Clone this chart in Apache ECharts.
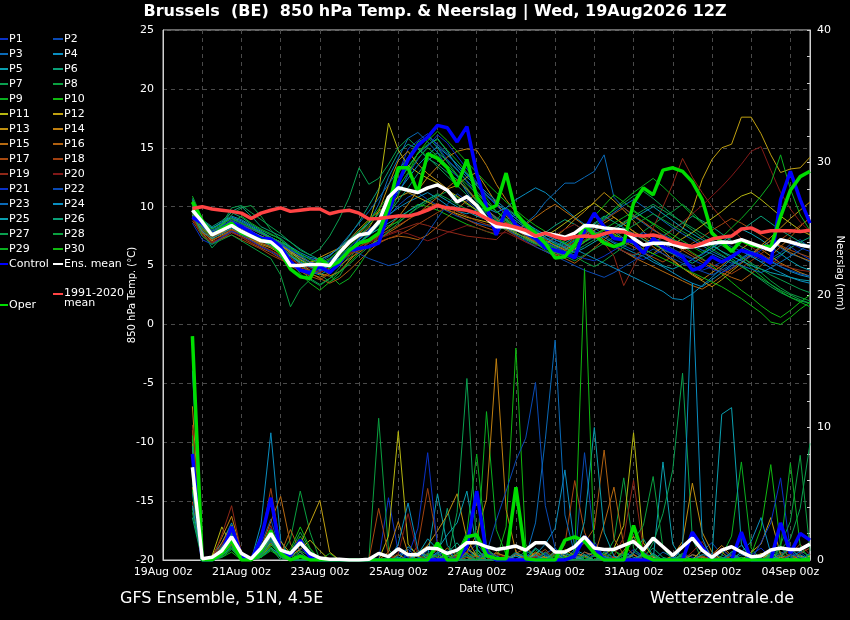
<!DOCTYPE html>
<html><head><meta charset="utf-8">
<script src="https://cdn.jsdelivr.net/npm/echarts@6/dist/echarts.min.js"></script>
<style>html,body{margin:0;padding:0;background:#000}#c{width:850px;height:620px}</style>
</head><body><div id="c"></div>
<script>
// forecast hours since 19Aug 00z (run 19Aug 12Z, +6h .. +384h)
const hours = Array.from({length:64}, (_, i) => 18 + 6 * i);

const memberColors = ['#0a32c8','#0a4ab4','#0a6ab8','#0a8ec0','#0aa0b0','#0aa078','#0aa050','#0aa040','#0ab020','#10b810',
  '#b8b810','#c0a010','#c09010','#c08010','#b86a10','#b06010','#a84a10','#a04010','#902818','#801818'];

// ---- 850 hPa temperature (°C), members ----
const tP1 = [9.2,8.0,7.4,7.9,8.3,8.0,7.6,7.2,6.9,6.4,5.8,5.2,4.8,4.6,4.9,5.6, 6.4,7.0,7.5,8.4,10.6,12.8,14.9,15.6,16.2,15.1,14.0,13.2,12.1,11.0,9.8,8.9, 8.4,8.0,7.5,7.1,6.8,6.2,5.9,6.3,7.0,7.4,7.1,6.6,6.2,5.8,5.5,5.9, 6.3,6.0,5.4,5.0,4.6,4.9,5.3,5.7,6.2,5.9,5.5,5.1,5.8,6.6,6.0,5.5];
const tP2 = [10.1,8.4,7.8,8.3,8.9,8.6,8.0,7.3,7.0,6.8,6.0,5.3,4.9,5.2,5.0,5.9, 6.8,7.6,8.1,8.6,9.2,10.1,10.8,11.2,10.6,10.1,9.6,9.2,8.9,8.6,8.4,8.2, 8.9,9.3,8.7,8.0,7.6,7.2,6.9,7.4,7.8,8.2,7.6,7.0,6.7,6.3,6.8,7.3, 7.0,6.4,6.0,5.6,5.9,6.5,7.1,6.6,6.2,5.8,5.3,5.6,6.1,6.8,7.2,6.5];
const tP3 = [9.6,8.2,7.6,8.5,9.0,8.7,8.2,7.8,7.3,6.9,6.3,5.6,5.1,4.9,5.4,6.2, 7.1,7.9,8.6,10.2,12.5,14.1,15.8,16.3,15.5,14.6,13.3,12.6,11.2,10.1,9.4,8.7, 8.1,7.9,8.6,9.3,10.4,11.2,12.0,12.0,12.5,13.0,14.4,10.8,9.9,9.2,8.6,8.0, 7.6,7.2,6.9,6.7,6.3,6.0,5.6,5.2,5.5,6.0,6.6,7.1,6.5,6.0,5.7,5.3];
const tP4 = [10.4,8.8,8.1,8.7,9.2,8.9,8.4,7.9,7.4,7.0,6.2,5.5,5.0,4.7,4.4,5.3, 6.2,7.3,8.0,8.6,9.3,9.9,10.4,10.8,11.2,10.7,10.1,9.6,9.4,9.7,9.9,9.5, 9.9,10.6,11.1,11.6,11.2,10.5,9.8,9.1,8.5,7.9,7.4,6.9,6.5,6.1,5.8,5.3, 4.9,4.4,3.9,3.5,3.2,3.8,4.4,5.0,5.6,6.2,5.9,5.4,4.9,4.5,4.2,4.0];
const tP5 = [9.9,8.5,7.9,8.2,8.6,8.4,7.9,7.4,7.1,6.6,5.9,5.1,4.5,4.2,4.7,5.5, 6.3,7.2,7.9,8.8,10.3,12.0,13.4,14.5,15.2,15.8,14.7,13.4,12.5,11.8,10.9,10.2, 9.7,9.0,8.3,7.6,7.1,6.7,6.4,6.9,7.5,8.0,8.4,7.9,7.3,6.8,6.1,5.5, 5.0,4.7,5.1,5.5,6.0,6.5,7.0,7.6,8.1,7.7,7.2,6.6,6.0,5.4,4.9,4.6];
const tP6 = [10.7,8.9,8.3,8.8,9.5,9.1,8.5,8.0,7.6,7.3,6.6,5.9,5.3,5.0,5.5,6.4, 7.5,8.7,10.1,11.5,13.0,14.6,15.3,14.9,14.1,13.6,12.9,12.3,11.4,10.5,9.7,9.1, 8.6,8.2,7.7,7.3,7.8,8.4,8.9,8.5,8.0,7.5,7.0,6.6,6.2,5.8,6.3,6.9, 7.5,8.1,8.6,9.2,8.8,8.3,7.7,7.1,6.6,6.2,5.8,5.4,5.9,6.5,7.0,7.4];
const tP7 = [9.4,7.9,6.5,7.4,8.1,7.8,7.3,6.9,6.6,6.1,5.4,4.6,3.9,3.4,3.9,4.8, 5.8,6.9,7.8,8.9,10.7,12.8,14.2,15.5,15.9,15.0,13.8,12.7,11.6,10.4,9.2,8.5, 8.0,7.6,7.2,6.8,6.5,6.1,6.6,7.2,7.8,8.5,9.1,9.7,10.3,10.9,11.3,10.7, 10.0,9.3,8.6,8.0,7.4,6.8,6.2,5.6,5.0,4.4,3.8,3.2,2.7,2.3,2.0,1.8];
const tP8 = [10.2,8.6,7.5,8.3,9.3,9.9,10.1,9.2,8.0,7.2,6.4,5.8,5.0,4.3,3.6,4.1, 5.5,6.8,7.6,8.1,8.4,8.7,9.3,9.9,10.4,10.9,11.3,10.8,10.2,9.7,9.2,8.8, 9.9,9.3,8.7,8.0,7.4,6.8,6.3,5.8,5.3,4.9,5.4,6.0,6.6,7.2,7.9,8.5, 9.1,9.6,10.2,9.5,8.7,7.9,7.1,6.4,5.8,5.1,4.4,3.7,3.1,2.6,2.3,2.0];
const tP9 = [10.9,9.0,7.2,7.9,8.6,9.2,8.6,8.1,7.7,7.2,6.5,5.9,5.2,4.8,4.2,3.4, 3.9,5.0,6.3,7.6,9.2,11.0,12.8,14.6,15.3,15.7,14.8,13.9,12.9,11.8,10.7,9.6, 8.8,8.1,7.5,6.9,6.3,5.8,6.3,6.9,7.6,8.3,9.0,9.8,10.5,11.2,11.8,12.4, 11.7,10.9,10.1,9.3,8.6,7.9,7.1,6.4,5.6,4.8,4.1,3.4,2.8,2.3,1.9,1.5];
const tP10 = [10.0,8.3,7.6,8.1,8.7,8.2,7.8,7.5,7.1,6.3,5.4,4.3,3.5,2.9,3.6,4.4, 5.2,6.1,7.0,7.7,8.2,8.8,9.6,10.2,10.0,9.7,9.3,8.9,8.5,8.2,7.9,7.6, 8.7,8.3,7.8,7.3,6.9,6.6,7.1,7.7,8.4,9.2,10.1,11.0,10.4,9.7,9.1,8.5, 7.9,7.3,6.7,6.1,5.6,5.0,4.3,3.6,2.9,2.3,1.6,1.0,0.6,1.2,1.9,2.5];
const tP11 = [9.5,8.1,7.3,7.8,8.4,8.1,7.7,7.4,7.0,6.7,6.1,5.5,5.0,4.7,5.1,5.9, 6.8,7.7,8.6,11.3,17.1,14.8,13.5,12.9,12.4,12.0,11.4,10.9,10.3,9.7,9.0,8.5, 8.1,7.7,7.4,7.0,7.5,8.0,8.6,9.2,9.8,10.3,9.7,9.1,8.5,7.9,7.4,6.9, 6.4,6.8,7.3,7.8,8.4,9.0,9.6,10.3,10.9,11.2,10.6,9.9,9.2,8.6,8.0,7.6];
const tP12 = [9.8,8.4,7.7,8.0,8.5,8.3,7.9,7.5,7.2,6.8,6.2,5.7,5.3,5.5,5.9,6.5, 7.2,8.1,8.9,9.6,10.2,10.8,11.2,10.8,10.4,10.0,9.7,9.4,9.1,8.9,8.7,8.5, 8.2,7.8,7.3,6.9,6.5,6.2,5.9,6.4,7.0,7.6,8.1,7.7,7.2,6.8,6.4,6.0, 6.6,7.3,8.1,9.7,12.3,14.0,15.0,15.3,17.6,17.6,16.2,14.4,12.9,13.2,13.3,14.2];
const tP13 = [9.3,7.9,7.1,7.6,8.0,7.7,7.2,6.8,6.5,6.0,5.3,4.9,5.2,5.7,6.1,6.5, 6.9,7.4,8.2,9.6,11.8,13.9,14.7,13.6,12.8,12.2,11.5,11.8,12.5,12.9,11.6,10.3, 9.2,8.5,7.9,7.3,6.8,7.4,8.1,8.9,9.6,10.4,11.2,10.5,9.7,8.8,7.9,7.1, 6.3,5.5,4.8,4.2,3.7,3.2,3.8,4.5,5.2,5.9,6.7,7.4,8.2,9.0,9.7,10.4];
const tP14 = [10.5,8.7,7.9,8.2,8.8,8.4,8.1,7.7,7.3,6.9,6.0,5.2,4.6,4.3,4.1,4.5, 5.4,6.3,7.0,7.6,8.3,9.1,10.2,11.4,12.5,13.4,14.2,14.7,14.9,14.8,13.5,11.9, 10.6,9.5,8.6,7.8,7.2,6.7,6.3,6.8,7.4,8.0,8.6,9.1,8.5,7.9,7.2,6.6, 6.0,5.4,4.8,4.3,3.8,4.4,5.0,5.7,6.4,7.0,6.4,5.8,5.2,4.8,4.4,4.1];
const tP15 = [9.0,7.7,7.0,7.3,7.8,7.5,7.1,6.7,6.3,5.8,5.2,4.7,4.3,4.0,4.4,5.0, 5.6,6.1,6.7,7.2,7.8,8.3,8.9,9.4,10.1,10.8,11.6,12.3,11.5,10.6,9.8,9.0, 8.4,7.9,8.5,9.1,9.7,10.2,9.6,9.0,8.4,7.8,7.2,6.7,6.2,5.7,5.3,4.9, 4.5,4.1,3.7,3.3,3.0,3.5,4.1,4.7,5.3,5.9,6.5,7.1,6.6,6.1,5.7,5.4];
const tP16 = [9.7,8.2,7.5,7.8,8.1,7.6,7.2,6.9,6.6,6.2,5.7,5.0,4.4,3.9,3.5,3.9, 4.6,5.4,6.2,6.9,7.3,7.5,7.4,7.2,7.6,8.3,9.1,9.8,10.5,11.1,10.4,9.6, 8.9,8.2,7.6,7.0,6.5,6.0,5.6,5.2,5.8,6.5,7.2,7.9,8.6,9.2,8.7,8.1, 7.5,6.9,6.3,5.8,5.3,4.8,4.4,4.0,3.7,4.3,5.0,5.8,6.6,7.4,8.3,9.1];
const tP17 = [9.1,7.8,7.2,7.5,7.9,7.4,6.9,6.5,6.1,5.6,5.0,4.5,4.1,3.8,4.3,5.1, 6.0,6.6,7.1,7.5,8.0,8.4,8.9,9.5,9.9,10.3,9.8,9.3,8.9,8.5,8.2,7.9, 8.7,8.1,7.6,7.1,6.6,6.2,6.7,7.3,7.9,8.4,8.0,7.5,7.0,6.6,6.1,5.7, 5.3,5.8,6.3,6.9,7.4,8.0,8.5,9.0,8.6,8.1,7.6,7.1,6.7,6.3,6.0,5.7];
const tP18 = [8.8,7.5,6.9,7.3,7.6,7.2,6.8,6.4,5.9,5.5,5.1,4.8,4.6,4.4,4.8,5.3, 5.9,6.3,6.7,7.0,7.3,7.6,8.0,8.5,9.0,9.5,10.0,9.6,9.2,8.8,8.5,8.3, 8.6,8.0,7.5,7.0,6.5,6.1,6.5,7.0,7.6,8.2,8.8,9.4,9.9,9.3,8.7,8.1, 7.5,7.0,6.5,6.0,5.5,5.1,4.7,4.3,4.8,5.4,6.0,6.6,7.2,7.8,8.4,9.0];
const tP19 = [9.4,8.0,7.4,7.7,8.0,7.6,7.3,7.0,6.7,6.4,5.9,5.4,5.0,4.7,5.0,5.6, 6.2,6.6,7.0,7.4,7.7,8.0,8.3,8.6,8.4,8.1,7.9,7.7,7.5,7.4,7.3,7.2, 8.0,7.5,7.0,6.6,6.2,5.8,6.2,6.7,7.2,7.7,6.9,5.8,3.3,4.9,6.5,8.2, 10.0,11.9,14.1,12.5,11.2,10.0,9.0,8.1,7.3,6.6,6.0,5.5,5.1,4.8,4.6,4.5];
const tP20 = [9.0,7.6,7.0,7.4,7.8,7.4,7.0,6.6,6.3,5.9,5.5,5.1,4.8,4.5,4.9,5.4, 6.0,6.4,6.9,7.3,7.6,7.9,7.7,7.4,7.1,7.4,7.8,8.1,8.4,8.2,7.9,7.7, 7.8,7.4,7.0,6.7,7.1,7.6,8.1,8.5,8.0,7.5,7.0,6.6,6.2,5.9,6.3,6.8, 7.4,8.0,8.7,9.4,10.1,10.9,11.7,12.6,13.6,14.7,15.1,13.1,11.2,9.8,8.7,7.9];
const tP21 = [8.6,7.2,6.8,7.4,7.9,7.6,7.1,6.6,6.2,5.7,5.1,4.6,4.2,4.5,5.0,5.7, 6.5,7.3,8.0,8.7,9.8,11.2,12.7,14.0,15.1,16.1,15.4,14.3,13.2,12.1,11.0,10.1, 9.3,8.6,8.0,7.5,7.0,6.6,6.2,5.9,5.6,5.4,5.8,6.3,6.8,7.3,7.8,7.4, 6.9,6.4,5.9,5.5,5.1,4.7,4.4,4.8,5.3,5.8,6.3,6.8,7.3,6.9,6.5,6.2];
const tP22 = [10.2,8.6,8.0,8.4,8.8,8.5,8.1,7.7,7.3,6.9,6.4,5.8,5.3,5.0,5.4,6.1, 6.4,6.0,5.6,5.3,5.0,5.2,5.7,6.6,7.8,9.0,10.2,11.1,10.5,9.8,9.1,8.5, 8.2,7.6,7.1,6.6,6.2,5.8,5.4,5.0,4.6,4.3,4.0,4.4,4.9,5.4,5.9,6.4, 6.0,5.6,5.2,4.8,4.5,4.2,4.6,5.1,5.6,6.1,5.7,5.3,4.9,4.6,4.3,4.1];
const tP23 = [9.9,8.3,7.7,8.1,8.6,8.3,7.9,7.5,7.1,6.8,6.3,5.9,5.6,5.3,5.8,6.6, 7.6,8.6,9.6,10.7,11.9,13.1,14.2,15.3,16.0,15.3,14.5,13.6,12.7,11.8,11.0,10.3, 9.6,9.0,8.4,7.9,7.4,7.0,6.6,7.1,7.7,8.3,8.9,9.5,10.1,10.6,10.0,9.4, 8.8,8.2,7.7,7.2,6.7,6.2,5.8,5.4,5.0,4.7,4.4,4.8,5.3,5.8,6.3,6.8];
const tP24 = [10.6,8.8,8.2,8.6,9.1,8.8,8.3,7.8,7.4,7.0,6.6,6.1,5.7,5.5,5.9,6.5, 7.2,7.9,8.6,9.4,10.3,11.3,12.4,13.5,14.4,15.1,14.4,13.6,12.8,12.0,11.2,10.5, 9.8,9.2,8.6,8.1,7.6,7.2,6.8,6.4,6.0,5.6,5.2,4.8,4.4,4.0,3.6,3.2, 2.8,2.2,2.1,2.6,3.3,4.0,4.8,5.6,6.3,5.8,5.3,4.8,4.4,4.0,3.7,3.5];
const tP25 = [9.3,7.9,7.3,7.7,8.2,7.9,7.5,7.1,6.7,6.3,5.8,5.3,4.9,4.6,5.0,5.6, 6.4,7.0,7.6,8.1,8.6,9.1,9.6,10.1,10.6,11.0,10.5,10.0,9.6,9.2,8.9,8.6, 9.4,8.8,8.2,7.7,7.3,6.9,6.5,6.1,6.5,7.0,7.5,8.0,8.5,9.0,9.5,10.0, 9.4,8.8,8.2,7.7,7.2,6.7,6.2,5.8,5.4,5.0,4.7,4.4,4.2,4.0,3.8,3.7];
const tP26 = [10.0,8.5,7.9,8.4,9.6,10.0,9.2,8.3,7.9,7.5,7.0,6.4,5.9,5.5,5.2,5.6, 6.2,6.9,7.6,8.4,9.4,10.5,11.6,12.8,13.9,14.6,13.9,13.1,12.2,11.3,10.4,9.6, 8.9,8.3,7.7,7.2,6.8,6.4,6.9,7.4,8.0,8.6,9.2,8.7,8.2,7.7,7.2,6.8, 6.4,6.0,5.6,5.2,5.7,6.2,6.8,7.4,8.0,8.6,9.2,8.6,8.0,7.5,7.0,6.6];
const tP27 = [10.3,8.7,7.6,8.5,9.9,10.1,9.5,8.9,8.3,7.7,7.0,6.3,5.9,6.4,7.5,9.0, 10.8,13.3,11.9,12.4,13.6,15.0,15.8,15.0,14.2,13.4,12.6,11.8,11.0,10.2,9.5,8.9, 8.3,7.8,7.3,6.9,6.5,6.1,5.8,6.2,6.7,7.2,7.7,8.2,8.7,9.2,9.7,10.2, 9.7,9.2,8.7,8.2,7.7,7.2,6.7,6.2,5.7,5.2,4.7,4.2,3.8,3.4,3.0,2.7];
const tP28 = [9.5,7.5,6.8,7.2,7.6,7.1,6.6,6.1,5.6,4.2,1.5,3.0,3.8,3.3,3.9,4.5, 5.1,5.9,6.6,7.2,7.9,8.6,9.3,10.0,10.6,11.1,10.7,10.2,9.8,9.4,9.0,8.7, 8.8,8.2,7.6,7.1,6.6,6.2,5.8,5.4,5.9,6.4,6.9,7.4,7.9,8.4,8.9,9.4, 8.9,8.4,7.9,7.4,6.9,6.4,5.9,5.4,4.9,4.4,3.9,3.4,2.9,2.5,2.1,1.8];
const tP29 = [9.8,8.1,7.5,7.9,8.3,8.0,7.6,7.2,6.8,6.4,5.9,5.4,5.0,4.7,5.1,5.8, 6.6,7.5,8.4,9.4,10.5,11.7,12.9,14.1,15.0,14.3,13.5,12.7,11.9,11.1,10.3,9.6, 9.0,8.4,7.9,7.4,6.9,6.5,6.1,6.6,7.1,7.6,8.1,8.6,9.1,9.6,9.1,8.6, 8.1,7.6,7.1,6.6,6.1,6.7,7.4,8.2,9.0,9.9,10.9,12.0,14.4,11.5,9.3,8.0];
const tP30 = [10.5,8.8,8.1,8.5,9.0,8.6,8.2,7.8,7.4,7.0,6.5,6.0,5.5,5.2,5.6,6.3, 7.1,7.9,8.8,9.8,10.9,12.1,13.3,14.5,15.6,16.4,15.6,14.7,13.8,12.9,12.0,11.2, 10.4,9.7,9.0,8.4,7.9,7.4,6.9,6.5,7.0,7.5,8.0,7.6,7.2,6.8,6.4,6.0, 5.6,5.2,4.8,4.4,4.0,3.6,3.2,2.7,2.2,1.6,1.0,0.2,0.0,0.6,1.3,1.9];

const tControl = [9.1,8.6,7.7,8.1,8.6,8.3,7.8,7.3,7.25,6.6,5.35,4.6,4.4,4.9,4.4,5.2, 6.3,6.45,6.6,6.9,9.45,12.0,14.0,15.2,15.9,16.9,16.7,15.5,16.8,12.85,10.0,7.6, 9.7,8.45,7.75,7.3,6.5,6.3,6.05,5.65,8.0,9.45,8.3,7.3,7.2,7.0,6.05,7.3, 6.6,6.2,5.75,4.6,4.9,5.75,5.3,5.75,6.3,6.05,5.75,5.2,10.6,13.0,10.6,8.6];
const tOper = [10.4,8.8,7.6,8.1,8.6,7.75,7.45,7.15,6.95,6.05,4.7,4.05,3.9,5.6,4.9,5.35, 6.3,6.9,7.15,7.75,10.0,13.3,13.3,11.2,14.5,14.1,13.3,11.7,14.0,10.85,9.7,10.1, 12.85,9.45,8.45,7.75,6.9,5.65,5.75,6.75,8.45,7.6,6.9,6.6,6.9,10.3,11.6,11.0, 13.1,13.3,13.0,12.1,10.6,7.75,7.0,6.2,7.15,6.75,6.6,6.6,9.15,11.4,12.55,13.0];
const tEnsMean = [9.7,8.7,7.6,8.0,8.4,7.9,7.5,7.1,7.0,6.3,5.0,5.0,5.1,5.1,5.0,6.1, 7.0,7.6,7.75,8.7,10.8,11.6,11.4,11.2,11.6,11.85,11.4,10.4,10.85,10.1,9.0,8.3, 8.3,8.1,7.75,7.5,7.75,7.6,7.4,7.75,8.4,8.35,8.2,8.1,8.0,7.3,6.75,6.9, 6.9,6.8,6.55,6.6,6.75,6.9,7.0,6.95,7.2,6.9,6.6,6.3,7.2,7.0,6.75,6.6];
const tClim = [9.85,10.0,9.8,9.7,9.6,9.45,9.0,9.45,9.7,9.9,9.6,9.7,9.8,9.8,9.4,9.6, 9.7,9.45,8.95,9.0,9.1,9.2,9.2,9.4,9.7,10.1,9.9,9.8,9.7,9.45,9.0,8.6, 8.45,8.25,8.0,7.5,7.75,7.45,7.25,7.45,7.5,7.45,7.7,7.9,7.85,7.6,7.5,7.6, 7.4,7.0,6.8,6.6,6.9,7.25,7.4,7.5,8.1,8.2,7.8,7.95,7.95,7.95,7.9,8.0];

// ---- precipitation (mm), members ----
const pP1 = [8.3,0,0.2,1.1,2.3,0.3,0,0.6,2.4,0.8,0.2,0.9,0.3,0,0,0, 0,0,0,0,4.7,0.6,0.2,0,0.9,0.4,0,0,0.5,1.2,0.3,0, 0,0,0.4,0.2,0,0,0,0,0.6,0.3,0,0,0.2,0.8,0.3,0, 0,0,0.5,0.2,0,0,0,0,0,0.4,0.9,0.2,0,0,0.3,0.1];
const pP2 = [6.1,0,0.1,0.8,2.0,0.4,0,1.2,3.1,0.5,0,0.3,0,0,0,0, 0,0,0,0,0,0,0.4,0,0.7,0.2,0,0.3,0.8,0.2,0,0, 0,0.3,0,0,0.5,0.9,0.2,0,8.1,1.4,0.2,0,0,0.6,0.2,0, 0,0.2,0,0,0.7,1.3,0.4,0,0,0,0.3,0,0.5,0.8,0.2,0];
const pP3 = [5.2,0,0,0.5,1.6,0.2,0,2.0,4.3,1.0,0.3,0,0,0,0,0, 0,0,0,0,0,0.3,0.8,0.2,0,0.5,0,0.2,0,0,0.6,0.3, 0,0,0.2,0.9,0.4,0,0,0,0.3,0.6,0.2,0,0,0.4,0,0, 0.6,0.2,0,0,0,0.5,0.2,0,0,0.3,0,0,0.9,0.2,0,0];
const pP4 = [7.4,0,0.3,1.3,2.8,0.5,0,2.7,9.6,1.5,0,0.4,0,0,0,0, 0,0,0,0,0,0,1.0,0.4,0,0,0.6,0.2,0,0.8,0,0, 0.3,0,0,0.4,1.2,2.4,6.8,0.9,0,0,0,0.3,0,0,0.5,0.2, 0,0,0,0.4,0.2,0,0,0.6,1.1,0.3,0,0,0,0.4,0.2,0];
const pP5 = [14.3,0,0,0.7,1.9,0.1,0,0.8,1.9,0.4,0,0,0,0,0,0, 0,0,0,0,0,0.2,0,0.6,0.3,5.0,1.1,0.3,0,0.4,0.2,0, 0,0.5,0,0,0.3,0,0,0.8,0.4,0,0,0,0.6,0.2,0,0, 7.4,1.2,0,0,0,0.3,0,0,0.2,0,0,0.5,0.3,0,0.4,0];
const pP6 = [3.2,0,0,0.9,1.4,0.3,0,0.5,1.7,0.6,0.3,1.1,0.4,0,0,0, 0,0,0,0,0,0,0,0,0,0,3.9,0.5,0,0,0.3,0, 0,0,0.7,0.3,0,0,0.4,0,0,0,0.6,0.2,0,0,0.3,0.9, 0.2,0,0,0,0,0.3,0.6,0,0,0,0.5,0.2,0,0,0.7,0.3];
const pP7 = [5.8,0,0,0.4,1.2,0,0,0.3,1.4,0.5,0.6,2.1,0.8,0,0,0, 0,0,0,0,0,0,0,0,0,0,0,0,0.9,0.3,0,0, 0,0.6,0.2,0,0,0.4,0,0,0,0.3,0,0,0.5,0,0,1.3, 3.5,6.8,14.1,1.6,0,0,0.2,0,0,0,0.4,0,0,0.3,0,0];
const pP8 = [9.1,0,0,0.6,1.5,0.2,0,0.4,1.2,0.3,1.6,5.2,2.1,0,0,0, 0,0,0,10.7,0.8,0,0,0,0.3,0,0,0,0,0.6,0,0, 0,0,0,0.8,0,0,0.3,0,0,0.7,0.2,1.5,6.2,0.9,0,0, 0,0,0.3,0,0,0,0,0.4,0,0,0,0.2,0.6,0,0,0];
const pP9 = [3.9,0,0,0.3,0.9,0,0,0.2,0.8,0.3,0,0,0,0,0.5,0, 0,0,0,0,0,0,0,0,0,1.3,0.4,0,0,0,11.2,2.3, 0.4,0,0,0,0,0,0.6,0.2,0,0,0,0.8,0,0,0,0, 0,0,0,0,0,0,0.3,1.8,7.4,0.9,0,0,0.2,0,0,0.4];
const pP10 = [6.7,0,0,0.2,0.6,0,0,0.3,1.0,0.2,0.5,1.8,0.6,0,0,0, 0,0,0,0,0,0,0,0,0,0,0,0,0.5,0.2,0,0, 2.5,16.0,1.2,0,0,0.4,0,0,0.2,0,0,0.7,0.3,0,0,0, 0,0,0.5,0,0,0,0,0,0.6,0.4,2.4,7.2,1.1,0,0,0.3];
const pP11 = [7.9,0,0.3,2.5,1.1,0,0,0.4,1.6,0.6,0.3,0.8,1.5,0.7,0,0, 0,0,0,0,1.8,9.7,1.2,0.3,0,0,0.6,0,0,0,0.4,0, 0,0,0,0.5,0,0.7,0.3,0,0,0,0.4,0.9,2.6,9.6,1.3,0.2, 0,0,0,0,0.8,0.2,0,0,0,0,0,0.6,0,0,0,0.3];
const pP12 = [5.5,0,0,1.3,2.6,0.4,0,0.6,1.8,0.9,0.4,1.2,2.8,4.5,0.6,0, 0,0,0,0,0,0,0,0.7,0.3,0,0,0.5,0.9,0.3,0,0, 0,0.4,0.2,0,0,0,0.8,0.3,0,0,0,0.2,0,0,0.5,0, 0,0,0,0,0.3,0,0,0,0,0.6,1.2,3.2,0.4,0,0,0];
const pP13 = [8.8,0,0,0.8,1.7,0.2,0,0.3,1.1,1.4,0.5,0,0,0,0,0, 0,0,0,0,0,0.4,0,0.5,1.1,2.2,3.4,5.0,1.6,0.3,0,0.5, 0.3,0,0,0.6,0.2,0,0,0.4,0,0,0,0,0.7,1.8,0.4,0, 0,0.3,1.4,5.8,2.1,0.6,0,0,0,0,0.5,0,0,0,0.3,0];
const pP14 = [11.6,0,0.2,1.7,3.3,0.6,0,0.4,1.3,0.7,0,0.3,0,0,0,0, 0,0,0,0,0.6,2.9,0.5,0,0.2,0.8,0.3,0,0.6,1.9,4.6,15.2, 3.8,0.6,0,0,0.2,0,0,0.5,0.3,0,0,0,0,0.4,0,0, 0,0,0,0,0,0.4,1.1,0.3,0,0,0,0,0.2,0,0,0];
const pP15 = [6.3,0,0,0.4,1.3,0.2,0,0.9,2.9,4.8,1.2,0.3,0,0,0,0, 0,0,0,0,0,0,0,0,0.4,0.2,0.9,0.3,0,0,0,0.6, 0.2,0,0.3,0,0,0,0,0,0.6,0.3,2.7,5.5,1.1,0.4,0,0, 0,0,0,0.4,0.2,0,0,0,0,0,0.3,0,0,0,0,0];
const pP16 = [9.8,0,0,1.0,2.1,0.3,0,0.5,1.5,0.4,2.3,0.6,0,0,0,0, 0,0,0,0,0,0,0,0,0,0,0,0.4,0.2,0,0,0, 0,0.5,0.9,0.3,0,0,0,0.6,1.3,2.4,8.3,1.6,0.4,0,0,0.3, 0,0,0,0,0,0.2,0.6,0,0,0,0,0,0,0.4,0,0];
const pP17 = [7.2,0,0,0.5,1.2,0,0,0.6,2.2,0.9,0,0,0,0,0,0, 0,0,0,3.9,0.4,0,0,0,0.5,0.2,0,0,0,0.3,0,0, 0,0,0,0.3,0.8,0,1.2,6.0,2.1,0.4,0,0.2,0,0,0,0, 0,0,0,0,0,0,0,0.3,0,0,0,0.2,0,0,0.5,0.9];
const pP18 = [4.4,0,0,0.6,1.8,0.2,0,1.4,5.4,1.0,0.3,0,0,0,0,0, 0,0,0,0,0,0,0,1.1,5.4,1.3,0,0.2,0.6,0,0,0, 0,0,0.3,0,0,0.5,0,0,0,0,0.4,0,0,0,0,0, 0,0,0,0,0.3,0,0,0,0,0,0,0,0.4,0.7,0,0];
const pP19 = [10.2,0,0,1.9,4.1,0.5,0,0.8,2.6,0.4,0,0,0,0,0,0, 0,0,0,0,0,0,0,0,0,0,0,0.3,0,0,0.7,0.3, 0,0,0,0.2,0.6,0,0,0,0,0,0,0.3,1.7,6.0,0.8,0, 0,0,0,0.6,1.4,0.3,0,0,0,0,0,0,0,0.5,1.2,0.4];
const pP20 = [8.0,0,0.1,1.2,2.5,0.3,0,0.7,1.9,0.5,0,0.2,0,0,0,0, 0,0,0,0,0,0.5,3.5,0.4,0,0,0.3,0,0,0,0,0.4, 0.2,0,0,0,0,0,0.5,0,0,0,0,0,0,0,0.3,0, 0,0,0,0,0,0.4,0.9,0.2,0,0,0,0,0,0,0,0];
const pP21 = [6.9,0,0,0.6,1.5,0.1,0,0.5,2.0,0.6,0,0.4,0,0,0,0, 0,0,0,0,0,0,0.3,2.4,8.1,1.0,0,0,0.4,0,0,0, 0,0,0,0,0.5,0,0,0,0,0.4,0.8,0,0,0,0,0, 0,0,0,0,0,0,0,0.5,0,0,1.3,2.8,6.2,0.7,0,0];
const pP22 = [5.0,0,0,0.4,1.3,0.2,0,0.3,1.6,0.3,0,0,0,0,0,0, 0,0,0,0,0,0,0,0,0,0.3,0.7,0,0,0,0.5,3.0, 5.2,7.5,9.2,13.4,4.1,0.9,0,0,0,0,0,0,0.4,0,0,0, 0,0,0,0,0,0,0.8,0.2,0,0,0,0,0,0.3,0.6,0];
const pP23 = [7.7,0,0,0.7,1.9,0.3,0,0.4,1.4,0.2,0,0,0,0,0,0, 0,0,0,0,0,0,0,0.6,0.3,0,0,0,0,0,0.8,0.3, 0,0.5,0.2,2.8,9.1,16.6,3.4,0.4,0,0,0,0,0,0,0.6,0, 0,0,0,0,0,0,0,0,0.4,0.2,0,0,0,0,0,0.5];
const pP24 = [4.1,0,0,0.3,1.0,0,0,0.2,0.9,0.4,0,0,0,0,0,0, 0,0,0,0,0,1.2,4.3,0.8,0,0.6,0.3,0,0,0,0,0, 0,0,0,0.4,0,0,0.5,0.2,0,0,0.3,0,0,0,0.4,0, 0,0,0.9,20.9,1.7,0,0,0,0.6,1.4,3.2,0.5,0,0,0,0];
const pP25 = [6.5,0,0,0.5,1.4,0.2,0,0.6,1.8,0.2,0,0,0,0,0,0, 0,0,0,0,0,0,0,0.4,1.6,0.8,1.9,2.8,5.2,0.9,0,0, 0,0.3,0,0,0,0.6,0,0.2,2.9,10.0,2.1,0.3,0,0,0,0.5, 0,0,0,0,0.4,0.3,11.0,11.5,1.2,0,0,0.3,0,0,0,0];
const pP26 = [8.6,0,0,1.0,2.0,0.4,0,0.9,2.3,0.5,0,0.6,0,0,0,0, 0,0,0,0,0,0,0,0,0,0,0.5,1.3,0.4,0,0,0, 0,0,0,0.9,0.3,0,0,0,0.4,0,0,0,0,0.5,1.6,0.3, 0,0,0.4,0,0,0,0,0.6,0,0,0,0,0.3,0.9,0.2,0];
const pP27 = [3.6,0,0,0.2,0.8,0,0,0.3,0.9,0,0.4,1.3,0.5,0,0,0, 0,0,0,0,0,0,0,0,0,0,0,3.6,13.7,0.8,0,0, 0,0,0,0,0.6,0,0,0,0,0.3,0,0,0,0,0.4,0, 0,0,0,0,0,0,0,0,0,0,0,0.4,0.8,1.6,3.9,8.8];
const pP28 = [7.1,0,0,0.6,1.5,0.2,0,0.4,1.5,0.3,0.2,0.7,0.3,0,0,0, 0,0,0,0,0,0,0,0,0.5,0.2,0,0,0.3,0,0,0, 0,0,0,0,0,0,0,0.6,0,0,0.5,0,0.4,1.5,2.6,6.3, 0.9,0,0,0,0,0,0,0,0,0,0,0.3,1.2,2.9,7.9,0.7];
const pP29 = [5.3,0,0,0.3,0.9,0,0,0.2,0.7,0.2,0,0,0,0,0,0, 0,0,0,0,0,0,0,0,0,0.4,0,0.5,2.1,8.0,1.0,0, 0,0,0,0,0,0.3,0,0,0,0,0,0,0,0,0,0.4, 0,0,0,0,0,0,0,0,0.2,0,0,0,0.9,7.3,1.1,0];
const pP30 = [9.4,0,0,0.4,1.1,0,0,0.3,1.2,0.4,0.8,2.5,0.9,0,0,0, 0,0,0,0,0,0,0,0,0,0,0,0,0,0,0.3,0, 0,0,0,0,0,0,0.2,0.4,22.0,0.6,0,0,0,0,0,0, 0,0,0,0,0,0,0,0,0,0,0,0,0,0,0,0.2];

const pControl = [8.0,0,0,0.5,2.5,0.3,0,1.6,4.7,0.5,0.35,1.5,0.2,0,0,0, 0,0,0,0,0,0,0,0,0,0,0,0,1.0,5.2,0.5,0, 0,0,0,0,0,0,0,0.3,1.75,1.0,0,0,0,0,0,0, 0,0,0,2.1,1.0,0,0,0,2.1,0,0,0,2.8,0.5,2.0,1.5];
const pOper = [16.9,0,0,0.5,1.5,0,0,0.7,2.2,0.5,0,0.3,0,0,0,0, 0,0,0,0,0,0,0,0,0,1.3,0,0,1.75,1.9,0.35,0.1, 0.1,5.5,0.1,0,0,0,1.5,1.75,1.4,0.5,0,0,0,2.6,0.35,0, 0,0,0,0,0,0,0,0,0,0,0,0,0,0,0,0];
const pEnsMean = [7.0,0.1,0.2,0.7,1.75,0.5,0.1,0.9,2.0,0.75,0.5,1.3,0.5,0.15,0.05,0.05, 0,0,0.05,0.5,0.25,0.85,0.4,0.4,0.9,0.85,0.5,0.75,1.3,1.3,1.0,0.8, 0.9,1.05,0.75,1.3,1.3,0.6,0.6,1.0,1.75,0.9,0.8,0.8,1.1,1.4,0.75,1.65, 1.0,0.35,1.0,1.65,0.75,0.2,0.75,1.0,0.6,0.25,0.3,0.75,0.9,0.8,0.8,1.2];

const memberTemp = [tP1,tP2,tP3,tP4,tP5,tP6,tP7,tP8,tP9,tP10,tP11,tP12,tP13,tP14,tP15,tP16,tP17,tP18,tP19,tP20,tP21,tP22,tP23,tP24,tP25,tP26,tP27,tP28,tP29,tP30];
const memberPrec = [pP1,pP2,pP3,pP4,pP5,pP6,pP7,pP8,pP9,pP10,pP11,pP12,pP13,pP14,pP15,pP16,pP17,pP18,pP19,pP20,pP21,pP22,pP23,pP24,pP25,pP26,pP27,pP28,pP29,pP30];

const C_CONTROL = '#0000ff', C_OPER = '#00dd00', C_MEAN = '#ffffff', C_CLIM = '#ff4444';
const FONT = 'DejaVu Sans';

function pairs(arr) { return arr.map((v, i) => [hours[i], v]); }
function line(name, arr, color, width, axis) {
  return { type: 'line', name, data: pairs(arr), yAxisIndex: axis, symbol: 'none', silent: true,
    lineStyle: { color, width }, itemStyle: { color }, animation: false };
}

const series = [];
memberTemp.forEach((a, k) => series.push(line('P' + (k + 1), a, memberColors[k % 20], 1, 0)));
memberPrec.forEach((a, k) => series.push(line('P' + (k + 1), a, memberColors[k % 20], 1, 1)));
series.push(line('Control', tControl, C_CONTROL, 3.5, 0));
series.push(line('Control', pControl, C_CONTROL, 3.5, 1));
series.push(line('Oper', tOper, C_OPER, 3.5, 0));
series.push(line('Oper', pOper, C_OPER, 3.5, 1));
series.push(line('Ens. mean', tEnsMean, C_MEAN, 3.5, 0));
series.push(line('Ens. mean', pEnsMean, C_MEAN, 3.5, 1));
series.push(line('1991-2020 mean', tClim, C_CLIM, 3.5, 0));

const MONTHS = ['Jan','Feb','Mar','Apr','May','Jun','Jul','Aug','Sep','Oct','Nov','Dec'];
function dateLabel(v) {
  if (v % 48 !== 0) return '';
  const d = new Date(Date.UTC(2026, 7, 19) + v * 3600 * 1000);
  const dd = String(d.getUTCDate()).padStart(2, '0');
  return dd + MONTHS[d.getUTCMonth()] + ' 00z';
}

// legend drawn as graphic elements
const graphic = [];
function legendItem(x, y, color, text, vAlign) {
  graphic.push({ type: 'line', shape: { x1: x, y1: y, x2: x + (x === 0 ? 8 : 10), y2: y }, style: { stroke: color, lineWidth: 2 }, silent: true });
  graphic.push({ type: 'text', x: x + (x === 0 ? 9 : 11), y: vAlign === 'top' ? y - 6 : y, silent: true,
    style: { text, fill: '#fff', fontSize: 11, fontFamily: FONT, verticalAlign: vAlign || 'middle', lineHeight: 10 } });
}
for (let k = 0; k < 30; k++) {
  const row = Math.floor(k / 2), col = k % 2;
  legendItem(col === 0 ? 0 : 53, 39 + 15 * row, memberColors[k % 20], 'P' + (k + 1));
}
legendItem(0, 264, C_CONTROL, 'Control');
legendItem(53, 264, C_MEAN, 'Ens. mean');
legendItem(53, 294, C_CLIM, '1991-2020\nmean', 'top');
legendItem(0, 305, C_OPER, 'Oper');

graphic.push({ type: 'text', x: 435, y: 12, silent: true,
  style: { text: 'Brussels  (BE)  850 hPa Temp. & Neerslag | Wed, 19Aug2026 12Z', fill: '#fff', fontSize: 16, fontWeight: 'bold', fontFamily: FONT, align: 'center', verticalAlign: 'middle' } });
graphic.push({ type: 'text', x: 120, y: 599, silent: true,
  style: { text: 'GFS Ensemble, 51N, 4.5E', fill: '#fff', fontSize: 16, fontFamily: FONT, align: 'left', verticalAlign: 'middle' } });
graphic.push({ type: 'text', x: 794, y: 599, silent: true,
  style: { text: 'Wetterzentrale.de', fill: '#fff', fontSize: 16, fontFamily: FONT, align: 'right', verticalAlign: 'middle' } });
// axis titles
graphic.push({ type: 'text', x: 132, y: 295, rotation: Math.PI / 2, silent: true,
  style: { text: '850 hPa Temp. (°C)', fill: '#fff', fontSize: 10, fontFamily: FONT, align: 'center', verticalAlign: 'middle' } });
graphic.push({ type: 'text', x: 840, y: 273, rotation: -Math.PI / 2, silent: true,
  style: { text: 'Neerslag (mm)', fill: '#fff', fontSize: 10, fontFamily: FONT, align: 'center', verticalAlign: 'middle' } });

const chart = echarts.init(document.getElementById('c'), null, { renderer: 'canvas' });
chart.setOption({
  backgroundColor: '#000',
  animation: false,
  textStyle: { fontFamily: FONT },
  grid: { left: 163, right: 40, top: 30, bottom: 60, show: true, borderColor: '#d0d0d0', borderWidth: 1,
    backgroundColor: 'transparent', containLabel: false, outerBoundsMode: 'none' },
  xAxis: {
    type: 'value', min: 0, max: 396, interval: 24,
    axisLine: { show: true, onZero: false, lineStyle: { color: '#d0d0d0' } },
    axisTick: { show: false },
    axisLabel: { color: '#fff', fontSize: 11, margin: 7, formatter: dateLabel, showMaxLabel: false, hideOverlap: false },
    splitLine: { show: true, lineStyle: { color: '#4a4a4a', type: [4, 4] } },
    name: 'Date (UTC)', nameLocation: 'middle', nameGap: 24, nameMoveOverlap: false, nameTextStyle: { color: '#fff', fontSize: 10 }
  },
  yAxis: [
    {
      type: 'value', min: -20, max: 25, interval: 5, position: 'left',
      axisLine: { show: true, onZero: false, lineStyle: { color: '#d0d0d0' } },
      axisTick: { show: false },
      axisLabel: { color: '#fff', fontSize: 11, margin: 9 },
      splitLine: { show: true, lineStyle: { color: '#4a4a4a', type: [4, 4] } }
    },
    {
      type: 'value', min: 0, max: 40, interval: 10, position: 'right',
      axisLine: { show: true, onZero: false, lineStyle: { color: '#d0d0d0' } },
      axisTick: { show: true, inside: true, length: 3, lineStyle: { color: '#d0d0d0' } },
      minorTick: { show: true, splitNumber: 5, length: 3, lineStyle: { color: '#d0d0d0' } },
      axisLabel: { color: '#fff', fontSize: 11, margin: 7 },
      splitLine: { show: false }
    }
  ],
  graphic,
  series
});
</script>
</body></html>
